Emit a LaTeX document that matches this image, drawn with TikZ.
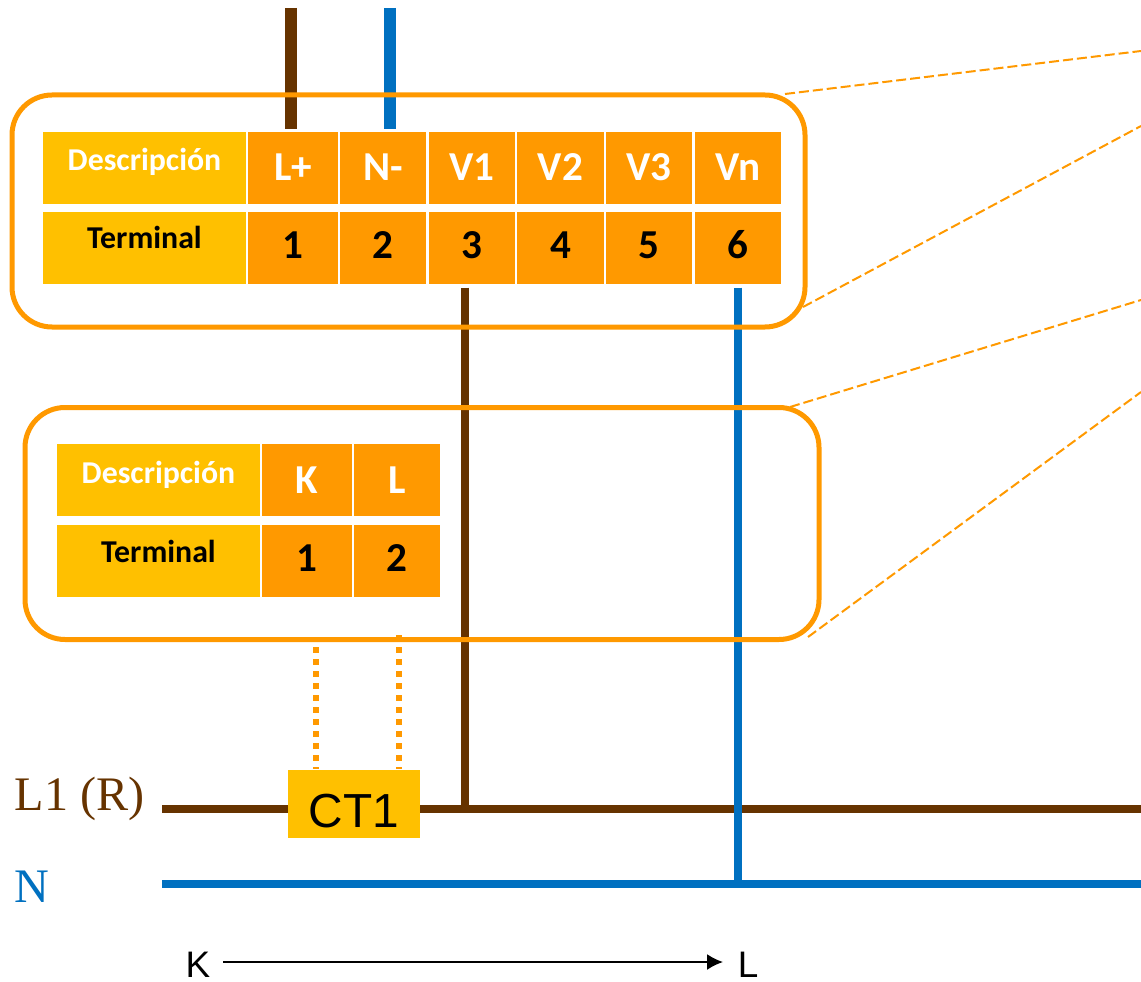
\documentclass[tikz,border=0pt]{standalone}
\usepackage{fontspec}
\setmainfont{Liberation Sans}
\newfontfamily\cellfont{Carlito}
\newfontfamily\phasefont{Liberation Serif}
\usetikzlibrary{arrows.meta}
\definecolor{cellorange}{HTML}{FF9900}
\definecolor{cellyellow}{HTML}{FFC000}
\definecolor{wirebrown}{HTML}{663300}
\definecolor{wireblue}{HTML}{0070C0}
\tikzset{
  frame/.style={rectangle, draw=cellorange, line width=0.05cm, rounded corners=0.4cm, minimum width=#1, minimum height=2.32cm},
  cell/.style={rectangle, fill=cellorange, inner sep=0pt, minimum height=0.72cm, minimum width=#1, font=\cellfont\bfseries\fontsize{11.7}{14}\selectfont, text depth=0pt},
  headcell/.style={cell=#1, text=white, text height=0.26cm},
  numcell/.style={cell=#1, text=black, text height=0.21cm},
  sidecell/.style={cell=2.03cm, fill=cellyellow, font=\cellfont\bfseries\fontsize{9.05}{11}\selectfont},
  desccell/.style={sidecell, text=white, text height=0.13cm, text depth=0.07cm},
  termcell/.style={sidecell, text=black, text height=0.11cm, text depth=0.09cm},
  thickwire/.style={line width=0.12cm},
  wire/.style={line width=0.08cm},
  zoomline/.style={draw=cellorange, line width=0.02cm, dash pattern=on 0.1cm off 0.04cm},
  tapline/.style={draw=cellorange, line width=0.06cm, dash pattern=on 0.06cm off 0.06cm},
  phase/.style={font=\phasefont\fontsize{13.7}{16}\selectfont},
  dirlabel/.style={font=\fontsize{10.5}{13}\selectfont, inner sep=0.04cm, text height=0.31cm, text depth=0pt}
}

\begin{document}
\begin{tikzpicture}
      \useasboundingbox (0,0) rectangle (11.41,9.81);

      % upper terminal table
      \node at(1.445,8.13) [desccell] (desc-upper) {Descripción};
      \node at(2.93,8.13) [headcell=0.90cm] (head-lplus) {L+};
      \node at(3.83,8.13) [headcell=0.86cm] (head-nminus) {N-};
      \node at(4.72,8.13) [headcell=0.86cm] (head-v1) {V1};
      \node at(5.605,8.13) [headcell=0.87cm] (head-v2) {V2};
      \node at(6.49,8.13) [headcell=0.86cm] (head-v3) {V3};
      \node at(7.38,8.13) [headcell=0.86cm] (head-vn) {Vn};

      \node at(1.445,7.33) [termcell] (term-upper) {Terminal};
      \node at(2.93,7.33) [numcell=0.90cm] (num-1) {1};
      \node at(3.83,7.33) [numcell=0.86cm] (num-2) {2};
      \node at(4.72,7.33) [numcell=0.86cm] (num-3) {3};
      \node at(5.605,7.33) [numcell=0.87cm] (num-4) {4};
      \node at(6.49,7.33) [numcell=0.86cm] (num-5) {5};
      \node at(7.38,7.33) [numcell=0.86cm] (num-6) {6};

      % lower terminal table
      \node at(1.585,5.01) [desccell] (desc-lower) {Descripción};
      \node at(3.07,5.01) [headcell=0.90cm] (head-k) {K};
      \node at(3.97,5.01) [headcell=0.86cm] (head-l) {L};

      \node at(1.585,4.20) [termcell] (term-lower) {Terminal};
      \node at(3.07,4.20) [numcell=0.90cm] (num-k) {1};
      \node at(3.97,4.20) [numcell=0.86cm] (num-l) {2};

      % free ends
      \coordinate (feed-l) at(2.91,9.73);
      \coordinate (feed-n) at(3.895,9.73);
      \coordinate (l1-start) at(1.62,1.72);
      \coordinate (l1-end) at(11.41,1.72);
      \coordinate (n-start) at(1.62,0.97);
      \coordinate (n-end) at(11.41,0.97);
      \coordinate (l1-v1) at(4.65,1.72);
      \coordinate (n-vn) at(7.375,0.97);
      \coordinate (tap-k) at(3.16,3.34);
      \coordinate (tap-l) at(3.99,3.46);

      \draw[thickwire, wirebrown, shorten >=0.025cm] (feed-l) -- (feed-l |- head-lplus.north);
      \draw[thickwire, wireblue, shorten >=0.025cm] (feed-n) -- (feed-n |- head-nminus.north);

      \draw[wire, wirebrown] (l1-start) -- (l1-end);
      \draw[wire, wirebrown, shorten <=0.03cm] (l1-v1 |- num-3.south) -- (l1-v1);
      \draw[wire, wireblue] (n-start) -- (n-end);
      \draw[wire, wireblue, shorten <=0.03cm] (n-vn |- num-6.south) -- (n-vn);

      \node at(3.54,1.77) [rectangle, fill=cellyellow, minimum width=1.32cm, minimum height=0.68cm, inner sep=0pt, font=\fontsize{13.6}{16}\selectfont, text height=0.46cm, text depth=0pt] (ct-one) {CT1};
      \draw[tapline] (tap-k) -- (tap-k |- ct-one.north);
      \draw[tapline] (tap-l) -- (tap-l |- ct-one.north);

      \node at(4.085,7.70) [frame=7.93cm] (frame-upper) {};
      \node at(4.22,4.575) [frame=7.94cm] (frame-lower) {};

      % zoom lines run off to the right
      \coordinate (zoom-a) at(7.85,8.87);
      \coordinate (zoom-a-end) at(11.41,9.30);
      \coordinate (zoom-b) at(8.03,6.74);
      \coordinate (zoom-b-end) at(11.41,8.55);
      \coordinate (zoom-c) at(7.90,5.74);
      \coordinate (zoom-c-end) at(11.41,6.81);
      \coordinate (zoom-d) at(8.08,3.44);
      \coordinate (zoom-d-end) at(11.41,5.89);
      \draw[zoomline] (zoom-a) -- (zoom-a-end);
      \draw[zoomline] (zoom-b) -- (zoom-b-end);
      \draw[zoomline] (zoom-c) -- (zoom-c-end);
      \draw[zoomline] (zoom-d) -- (zoom-d-end);

      \node at(0.795,1.82) [phase, text=wirebrown] (label-l1) {L1 (R)};
      \node at(0.315,0.94) [phase, text=wireblue] (label-n) {N};

      \node at(1.98,0.19) [dirlabel] (dir-k) {K};
      \node at(7.48,0.19) [dirlabel] (dir-l) {L};
      \draw[-{Latex[length=0.16cm,width=0.16cm]}, line width=0.02cm, shorten <=0.08cm, shorten >=0.1cm] (dir-k) -- (dir-l);
\end{tikzpicture}
\end{document}
